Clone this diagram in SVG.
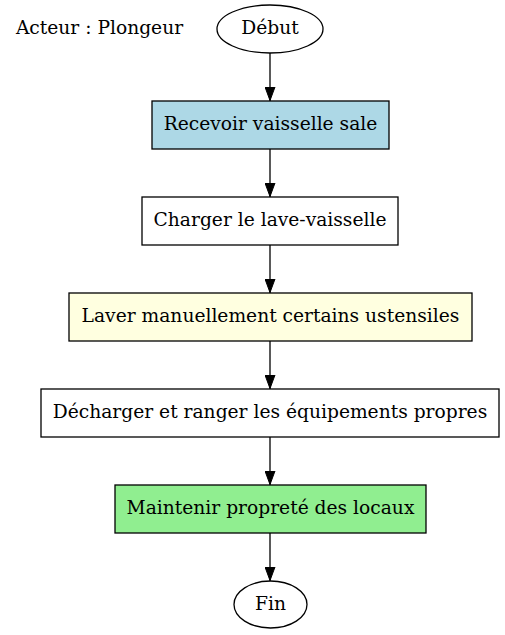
<svg xmlns="http://www.w3.org/2000/svg" width="505" height="635" viewBox="0 0 505 635">
<defs>
<style>
text{font-family:"DejaVu Serif",serif;font-size:18.67px;fill:#000;text-anchor:middle}
.n{stroke:#000;stroke-width:1.3}
.e{stroke:#000;stroke-width:1.3;fill:none}
</style>
<marker id="ah" markerWidth="14" markerHeight="11" refX="14" refY="5.5" viewBox="0 0 14 11" orient="auto" markerUnits="userSpaceOnUse">
<path d="M0,0.5 L13.5,5.5 L0,10.5 Z" fill="#000" stroke="#000" stroke-width="1"/>
</marker>
</defs>
<rect width="505" height="635" fill="#fff"/>
<g id="actor"><text x="99.5" y="34">Acteur : Plongeur</text></g>
<g id="connectors">
<line class="e" x1="270" y1="53" x2="270" y2="101" marker-end="url(#ah)"/>
<line class="e" x1="270" y1="149" x2="270" y2="197" marker-end="url(#ah)"/>
<line class="e" x1="270" y1="245" x2="270" y2="293" marker-end="url(#ah)"/>
<line class="e" x1="270" y1="341" x2="270" y2="389" marker-end="url(#ah)"/>
<line class="e" x1="270" y1="437" x2="270" y2="485" marker-end="url(#ah)"/>
<line class="e" x1="270" y1="533" x2="270" y2="581" marker-end="url(#ah)"/>
</g>
<g id="debut"><ellipse class="n" cx="270" cy="29" rx="53" ry="24" fill="#fff"/><text x="270" y="34">Début</text></g>
<g id="recevoir"><rect class="n" x="152" y="101" width="237" height="48" fill="#add8e6"/><text x="270.5" y="130">Recevoir vaisselle sale</text></g>
<g id="charger"><rect class="n" x="142" y="197" width="256" height="48" fill="#fff"/><text x="270" y="226">Charger le lave-vaisselle</text></g>
<g id="laver"><rect class="n" x="69" y="293" width="403" height="48" fill="#ffffe0"/><text x="270.5" y="322">Laver manuellement certains ustensiles</text></g>
<g id="decharger"><rect class="n" x="41" y="389" width="458" height="48" fill="#fff"/><text x="270" y="418">Décharger et ranger les équipements propres</text></g>
<g id="maintenir"><rect class="n" x="115" y="485" width="311" height="48" fill="#90ee90"/><text x="270.5" y="514">Maintenir propreté des locaux</text></g>
<g id="fin"><ellipse class="n" cx="270.5" cy="604.5" rx="36.5" ry="23.5" fill="#fff"/><text x="270.5" y="610">Fin</text></g>
</svg>
